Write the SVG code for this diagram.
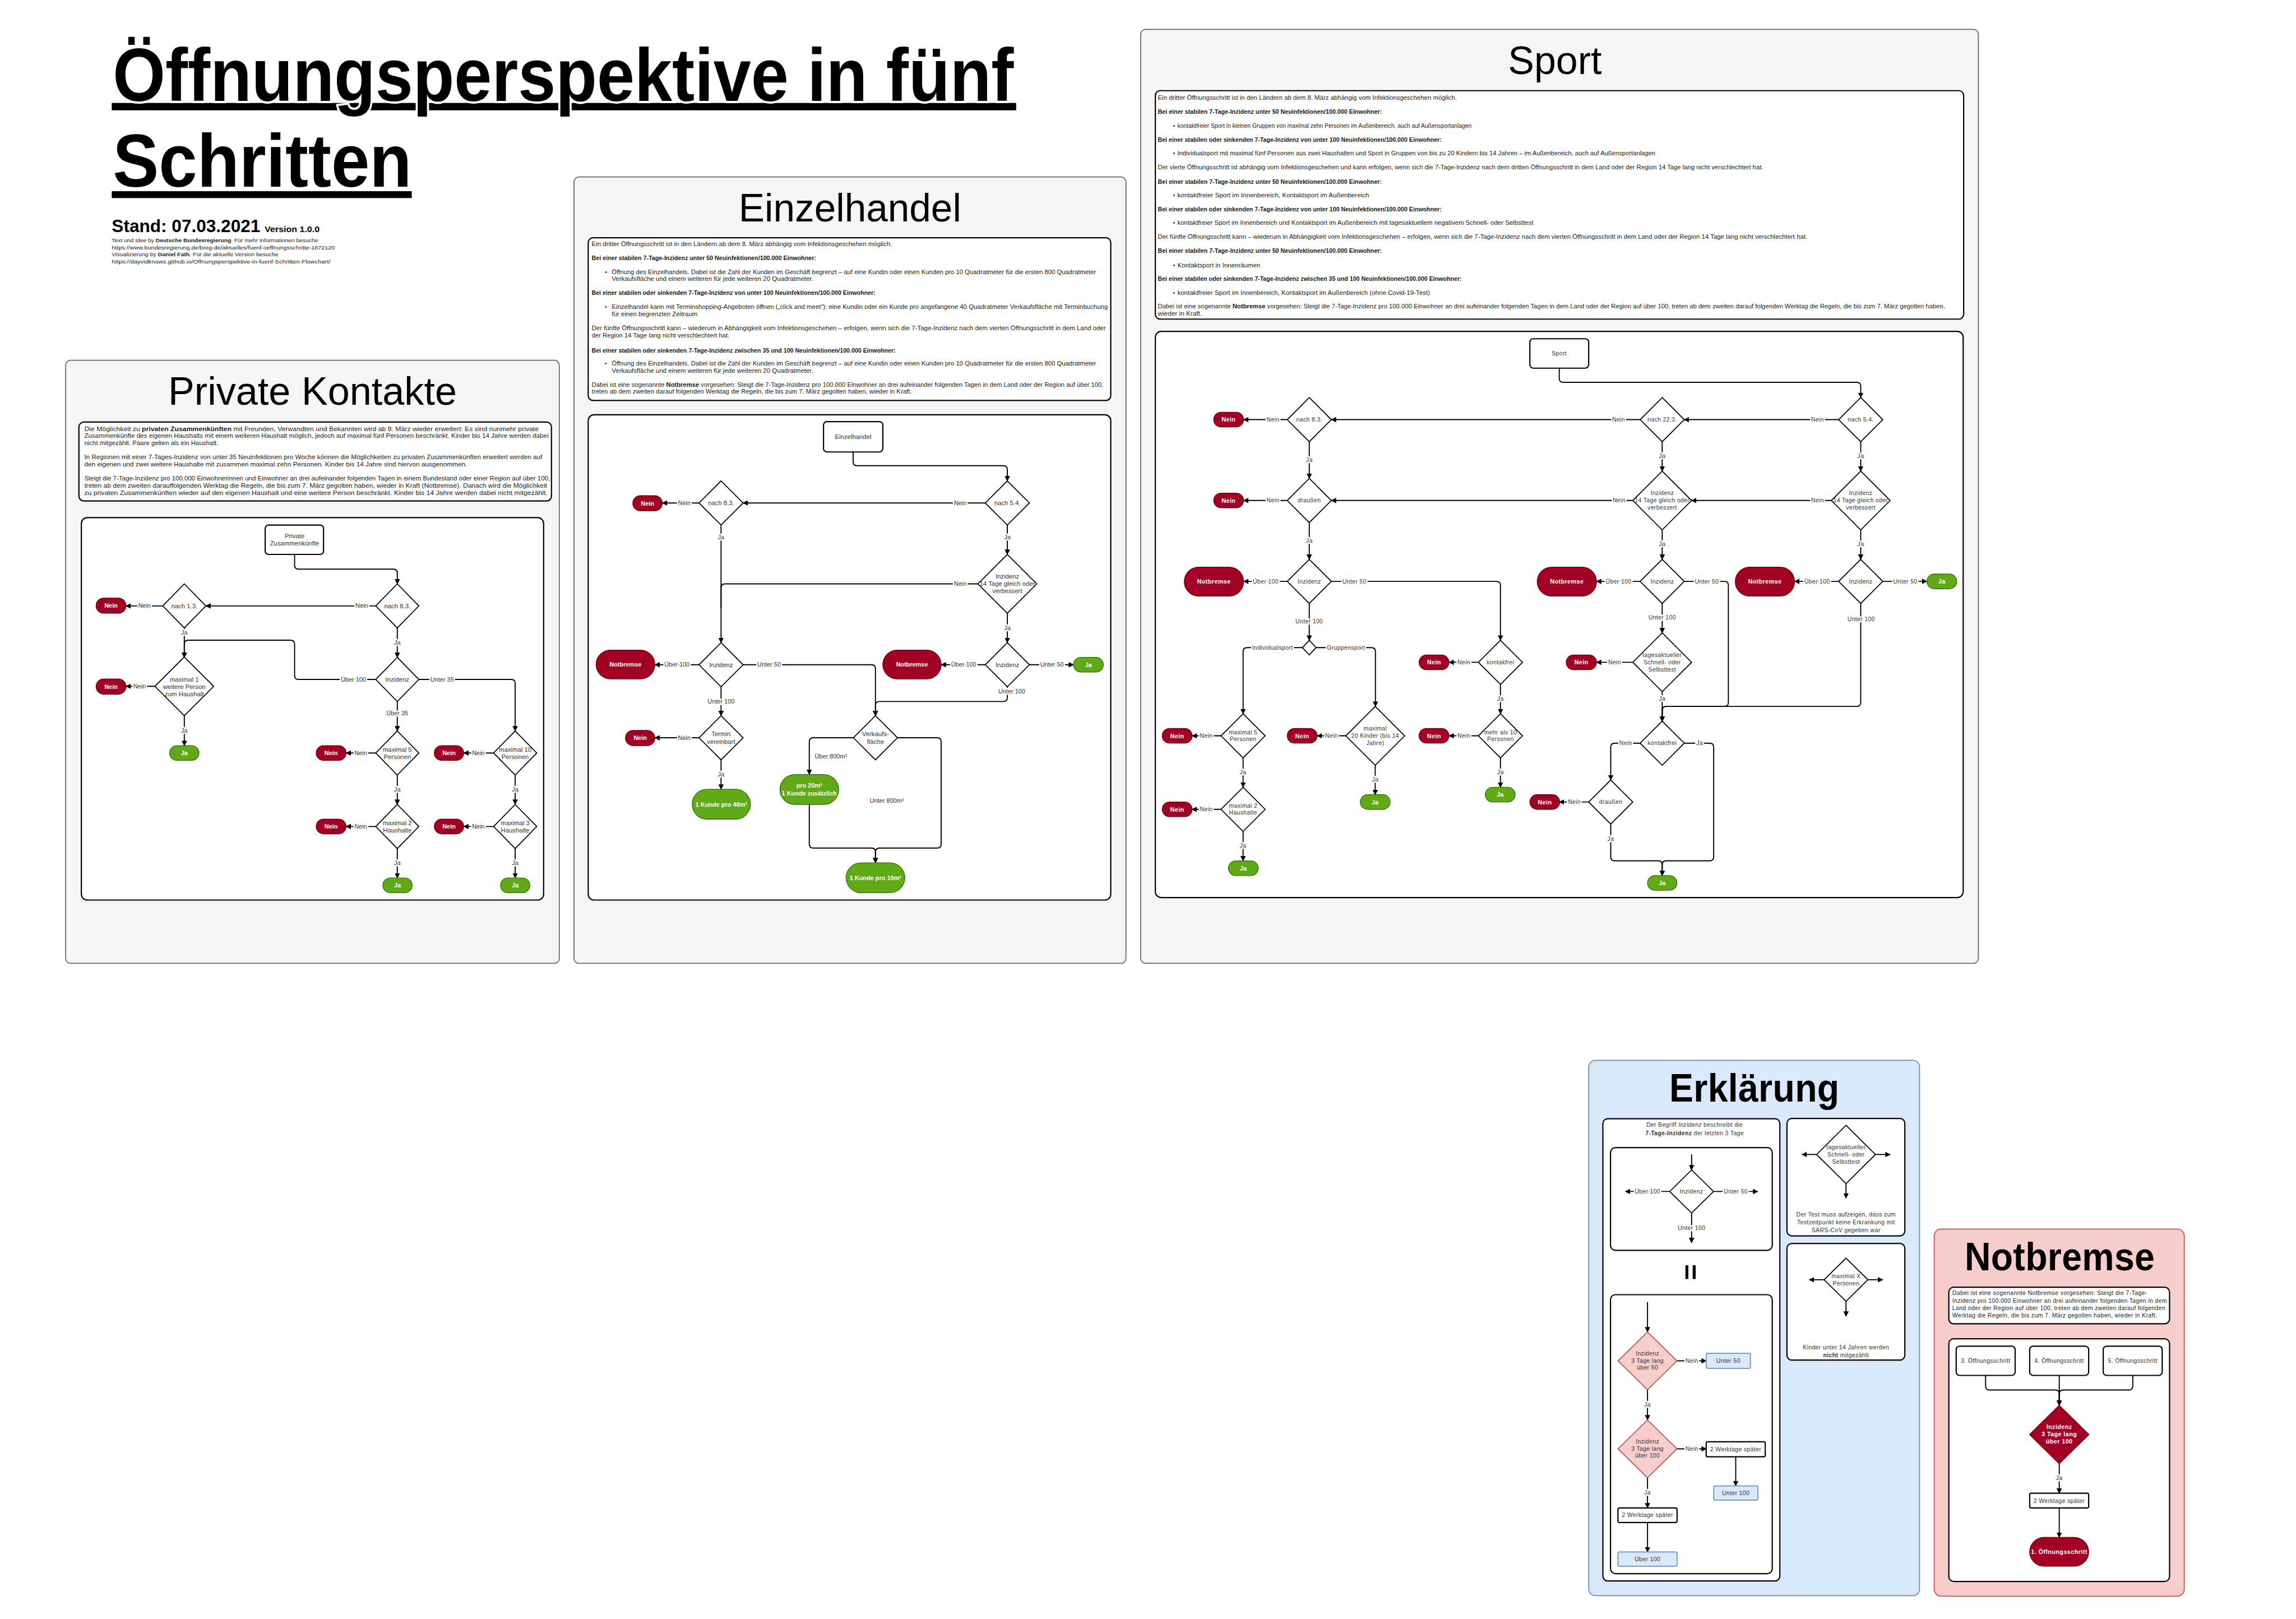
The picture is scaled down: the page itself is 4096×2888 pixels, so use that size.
<svg xmlns="http://www.w3.org/2000/svg" width="4096" height="2888" viewBox="0 0 4096 2888">
<defs>
<style>
.c{font-family:"Liberation Sans Narrow","Liberation Sans",Arial,sans-serif}
.w{font-family:"Liberation Sans",Arial,sans-serif;letter-spacing:.4px}
.pn{fill:#f5f5f5;stroke:#666;stroke-width:2}
.bx{fill:#fff;stroke:#000;stroke-width:2.5}
.dm{fill:#fff;stroke:#000;stroke-width:2}
.rd{fill:#a20025;stroke:#6f0000;stroke-width:1.5}
.gr{fill:#60a917;stroke:#2d7600;stroke-width:1.5}
.bl{fill:#dae8fc;stroke:#6c8ebf;stroke-width:2}
.pk{fill:#f8cecc;stroke:#b85450;stroke-width:2}
.ln{fill:none;stroke:#000;stroke-width:2.2}
.ar{marker-end:url(#a)}
.n{font-size:13px;fill:#333;text-anchor:middle}
.nw{font-size:12px;fill:#333;text-anchor:middle}
.l{font-size:12.5px;fill:#333;text-anchor:middle;stroke:#fff;stroke-width:6;paint-order:stroke;stroke-linejoin:round}
.lw{font-size:12px;fill:#333;text-anchor:middle;stroke:#fff;stroke-width:6;paint-order:stroke;stroke-linejoin:round}
.p{font-size:12.5px;fill:#fff;font-weight:bold;text-anchor:middle}
.b{font-size:12px;fill:#1a1a1a}
.t{font-size:80px;fill:#000;text-anchor:middle}
</style>
<marker id="a" viewBox="0 0 10 10" refX="9" refY="5" markerWidth="11" markerHeight="11" markerUnits="userSpaceOnUse" orient="auto"><path d="M0,0L10,5L0,10z" fill="#000"/></marker>
</defs>
<rect width="4096" height="2888" fill="#fff"/>
<g transform="scale(0.87447)">

<g id="header">
<rect x="228" y="210" width="1845" height="15" fill="#000"/>
<rect x="228" y="390" width="612" height="14" fill="#000"/>
<text class="c" x="230" y="206" font-size="152" font-weight="bold" textLength="1838" lengthAdjust="spacingAndGlyphs" stroke="#fff" stroke-width="9" paint-order="stroke">Öffnungsperspektive in fünf</text>
<text class="c" x="230" y="381" font-size="152" font-weight="bold" textLength="610" lengthAdjust="spacingAndGlyphs">Schritten</text>
<text class="c" x="228" y="473" font-size="35" font-weight="bold" textLength="303" lengthAdjust="spacingAndGlyphs">Stand: 07.03.2021</text>
<text class="c" x="540" y="473" font-size="17" font-weight="bold" textLength="112" lengthAdjust="spacingAndGlyphs">Version 1.0.0</text>
<text class="c" x="228" y="494" font-size="11" fill="#222" textLength="421" lengthAdjust="spacingAndGlyphs">Text und Idee by <tspan font-weight="bold">Deutsche Bundesregierung</tspan>. Für mehr Informationen besuche</text>
<text class="c" x="228" y="508.5" font-size="11" fill="#222" textLength="455" lengthAdjust="spacingAndGlyphs">https://www.bundesregierung.de/breg-de/aktuelles/fuenf-oeffnungsschritte-1872120</text>
<text class="c" x="228" y="523" font-size="11" fill="#222" textLength="340" lengthAdjust="spacingAndGlyphs">Visualizierung by <tspan font-weight="bold">Daniel Fath</tspan>. Für die aktuelle Version besuche</text>
<text class="c" x="228" y="537.5" font-size="11" fill="#222" textLength="446" lengthAdjust="spacingAndGlyphs">https://dayvidknows.github.io/Offnungsperspektive-in-fuenf-Schritten-Flowchart/</text>
</g>

<!-- ============ PRIVATE KONTAKTE ============ -->
<g id="panel-private">
<rect class="pn" x="134" y="735" width="1007" height="1230" rx="10"/>
<text class="c t" x="637.5" y="826" textLength="589" lengthAdjust="spacingAndGlyphs">Private Kontakte</text>
<rect class="bx" x="161" y="861" width="964" height="161" rx="10"/>
<g class="c b">
<text x="172" y="879" textLength="927" lengthAdjust="spacingAndGlyphs">Die Möglichkeit zu <tspan font-weight="bold">privaten Zusammenkünften</tspan> mit Freunden, Verwandten und Bekannten  wird  ab  8.  März  wieder  erweitert:  Es  sind  nunmehr  private</text>
<text x="172" y="893.5" textLength="947" lengthAdjust="spacingAndGlyphs">Zusammenkünfte des eigenen Haushalts mit einem weiteren Haushalt möglich, jedoch auf maximal fünf Personen beschränkt. Kinder bis 14 Jahre werden dabei</text>
<text x="172" y="908" textLength="273" lengthAdjust="spacingAndGlyphs">nicht mitgezählt. Paare gelten als ein Haushalt.</text>
<text x="172" y="937" textLength="934" lengthAdjust="spacingAndGlyphs">In Regionen mit einer 7-Tages-Inzidenz von unter 35 Neuinfektionen pro Woche können die Möglichkeiten zu privaten Zusammenkünften erweitert werden auf</text>
<text x="172" y="951.5" textLength="781" lengthAdjust="spacingAndGlyphs">den eigenen und zwei weitere Haushalte mit zusammen maximal zehn Personen. Kinder bis 14 Jahre sind hiervon ausgenommen.</text>
<text x="172" y="980.5" textLength="950" lengthAdjust="spacingAndGlyphs">Steigt die 7-Tage-Inzidenz pro 100.000 Einwohnerinnen und Einwohner an drei aufeinander folgenden Tagen in einem Bundesland oder einer Region auf über 100,</text>
<text x="172" y="995" textLength="944" lengthAdjust="spacingAndGlyphs">treten ab dem zweiten darauffolgenden Werktag die Regeln, die bis zum 7. März gegolten haben, wieder in Kraft (Notbremse). Danach wird die Möglichkeit</text>
<text x="172" y="1009.5" textLength="945" lengthAdjust="spacingAndGlyphs">zu privaten Zusammenkünften wieder auf den eigenen Haushalt und eine weitere Person beschränkt. Kinder bis 14 Jahre werden dabei nicht mitgezählt.</text>
</g>
<rect class="bx" x="166" y="1056" width="943" height="780" rx="12"/>
</g>

<g id="pk-connectors">
<path class="ln ar" d="M601 1131V1153Q601 1161 609 1161H802.5Q810.5 1161 810.5 1169V1191"/>
<path class="ln ar" d="M766.5 1236H420"/>
<path class="ln ar" d="M332 1236H257"/>
<path class="ln ar" d="M376 1281V1341"/>
<path class="ln ar" d="M810.5 1281V1341"/>
<path class="ln ar" d="M766.5 1386H609Q601 1386 601 1378V1314Q601 1306 593 1306H384Q376 1306 376 1314V1341"/>
<path class="ln ar" d="M316 1400H257"/>
<path class="ln ar" d="M376 1460V1521"/>
<path class="ln ar" d="M810.5 1431V1491"/>
<path class="ln ar" d="M854.5 1386H1043Q1051 1386 1051 1394V1491"/>
<path class="ln ar" d="M766.5 1536H706"/>
<path class="ln ar" d="M810.5 1581V1641"/>
<path class="ln ar" d="M766.5 1686H706"/>
<path class="ln ar" d="M810.5 1731V1791"/>
<path class="ln ar" d="M1007 1536H946"/>
<path class="ln ar" d="M1051 1581V1641"/>
<path class="ln ar" d="M1007 1686H946"/>
<path class="ln ar" d="M1051 1731V1791"/>
<g class="c l">
<text x="738" y="1240">Nein</text>
<text x="295" y="1240">Nein</text>
<text x="376" y="1295">Ja</text>
<text x="810.5" y="1315">Ja</text>
<text x="721" y="1390">Über 100</text>
<text x="285" y="1404">Nein</text>
<text x="376" y="1495">Ja</text>
<text x="810.5" y="1459">Über 35</text>
<text x="902" y="1390">Unter 35</text>
<text x="736" y="1540">Nein</text>
<text x="810.5" y="1615">Ja</text>
<text x="736" y="1690">Nein</text>
<text x="810.5" y="1765">Ja</text>
<text x="976" y="1540">Nein</text>
<text x="1051" y="1615">Ja</text>
<text x="976" y="1690">Nein</text>
<text x="1051" y="1765">Ja</text>
</g>
</g>

<g id="pk-start"><rect class="bx" x="541" y="1071" width="119" height="60" rx="7"/><text class="c n" x="601" y="1098">Private<tspan x="601" dy="14.5">Zusammenkünfte</tspan></text></g>
<g id="pk-nach83"><polygon class="dm" points="810.5,1191 854.5,1236 810.5,1281 766.5,1236"/><text class="c n" x="810.5" y="1240.5">nach 8.3.</text></g>
<g id="pk-nach13"><polygon class="dm" points="376,1191 420,1236 376,1281 332,1236"/><text class="c n" x="376" y="1240.5">nach 1.3.</text></g>
<g id="pk-nein1"><rect class="rd" x="196" y="1220" width="61" height="31" rx="15.5"/><text class="c p" x="226.5" y="1240">Nein</text></g>
<g id="pk-max1"><polygon class="dm" points="376,1340 436,1400 376,1460 316,1400"/><text class="c n" x="376" y="1390.5">maximal 1<tspan x="376" dy="15">weitere Person</tspan><tspan x="376" dy="15">zum Haushalt</tspan></text></g>
<g id="pk-nein2"><rect class="rd" x="196" y="1385" width="61" height="31" rx="15.5"/><text class="c p" x="226.5" y="1405">Nein</text></g>
<g id="pk-ja1"><rect class="gr" x="346" y="1521" width="60" height="30" rx="15"/><text class="c p" x="376" y="1540.5">Ja</text></g>
<g id="pk-inzidenz"><polygon class="dm" points="810.5,1341 854.5,1386 810.5,1431 766.5,1386"/><text class="c n" x="810.5" y="1390.5">Inzidenz</text></g>
<g id="pk-max5"><polygon class="dm" points="810.5,1491 854.5,1536 810.5,1581 766.5,1536"/><text class="c n" x="810.5" y="1533">maximal 5<tspan x="810.5" dy="15">Personen</tspan></text></g>
<g id="pk-nein3"><rect class="rd" x="645" y="1521" width="61" height="30" rx="15"/><text class="c p" x="675.5" y="1540.5">Nein</text></g>
<g id="pk-max2"><polygon class="dm" points="810.5,1641 854.5,1686 810.5,1731 766.5,1686"/><text class="c n" x="810.5" y="1683">maximal 2<tspan x="810.5" dy="15">Haushalte</tspan></text></g>
<g id="pk-nein4"><rect class="rd" x="645" y="1671" width="61" height="30" rx="15"/><text class="c p" x="675.5" y="1690.5">Nein</text></g>
<g id="pk-ja2"><rect class="gr" x="781" y="1791" width="60" height="30" rx="15"/><text class="c p" x="811" y="1810.5">Ja</text></g>
<g id="pk-max10"><polygon class="dm" points="1051,1491 1095,1536 1051,1581 1007,1536"/><text class="c n" x="1051" y="1533">maximal 10<tspan x="1051" dy="15">Personen</tspan></text></g>
<g id="pk-nein5"><rect class="rd" x="886" y="1521" width="60" height="30" rx="15"/><text class="c p" x="916" y="1540.5">Nein</text></g>
<g id="pk-max3"><polygon class="dm" points="1051,1641 1095,1686 1051,1731 1007,1686"/><text class="c n" x="1051" y="1683">maximal 3<tspan x="1051" dy="15">Haushalte</tspan></text></g>
<g id="pk-nein6"><rect class="rd" x="886" y="1671" width="60" height="30" rx="15"/><text class="c p" x="916" y="1690.5">Nein</text></g>
<g id="pk-ja3"><rect class="gr" x="1021" y="1791" width="60" height="30" rx="15"/><text class="c p" x="1051" y="1810.5">Ja</text></g>

<!-- ============ EINZELHANDEL ============ -->
<g id="panel-einzelhandel">
<rect class="pn" x="1171" y="361" width="1126" height="1604" rx="10"/>
<text class="c t" x="1734" y="452" textLength="454" lengthAdjust="spacingAndGlyphs">Einzelhandel</text>
<rect class="bx" x="1200" y="485" width="1066" height="332" rx="10"/>
<g class="c b">
<text x="1207" y="502" textLength="613" lengthAdjust="spacingAndGlyphs">Ein dritter Öffnungsschritt ist in den Ländern ab dem 8. März abhängig vom Infektionsgeschehen möglich.</text>
<text x="1207" y="531" font-weight="bold" textLength="458" lengthAdjust="spacingAndGlyphs">Bei einer stabilen 7-Tage-Inzidenz unter 50 Neuinfektionen/100.000 Einwohner:</text>
<text x="1234" y="559">•</text>
<text x="1248" y="559" textLength="988" lengthAdjust="spacingAndGlyphs">Öffnung des Einzelhandels. Dabei ist die Zahl der Kunden im Geschäft begrenzt – auf eine Kundin oder einen Kunden pro 10 Quadratmeter für die ersten 800 Quadratmeter</text>
<text x="1248" y="573" textLength="411" lengthAdjust="spacingAndGlyphs">Verkaufsfläche und einem weiteren für jede weiteren 20 Quadratmeter.</text>
<text x="1207" y="601" font-weight="bold" textLength="579" lengthAdjust="spacingAndGlyphs">Bei einer stabilen oder sinkenden 7-Tage-Inzidenz von unter 100 Neuinfektionen/100.000 Einwohner:</text>
<text x="1234" y="630">•</text>
<text x="1248" y="630" textLength="1012" lengthAdjust="spacingAndGlyphs">Einzelhandel kann mit Terminshopping-Angeboten öffnen („click and meet“): eine Kundin oder ein Kunde pro angefangene 40 Quadratmeter Verkaufsfläche mit Terminbuchung</text>
<text x="1248" y="645" textLength="175" lengthAdjust="spacingAndGlyphs">für einen begrenzten Zeitraum</text>
<text x="1207" y="674" textLength="1049" lengthAdjust="spacingAndGlyphs">Der fünfte Öffnungsschritt kann – wiederum in Abhängigkeit vom Infektionsgeschehen – erfolgen, wenn sich die 7-Tage-Inzidenz nach dem vierten Öffnungsschritt in dem Land oder</text>
<text x="1207" y="688" textLength="281" lengthAdjust="spacingAndGlyphs">der Region 14 Tage lang nicht verschlechtert hat.</text>
<text x="1207" y="719" font-weight="bold" textLength="620" lengthAdjust="spacingAndGlyphs">Bei einer stabilen oder sinkenden 7-Tage-Inzidenz zwischen 35 und 100 Neuinfektionen/100.000 Einwohner:</text>
<text x="1234" y="746">•</text>
<text x="1248" y="746" textLength="988" lengthAdjust="spacingAndGlyphs">Öffnung des Einzelhandels. Dabei ist die Zahl der Kunden im Geschäft begrenzt – auf eine Kundin oder einen Kunden pro 10 Quadratmeter für die ersten 800 Quadratmeter</text>
<text x="1248" y="760" textLength="411" lengthAdjust="spacingAndGlyphs">Verkaufsfläche und einem weiteren für jede weiteren 20 Quadratmeter.</text>
<text x="1207" y="789" textLength="1044" lengthAdjust="spacingAndGlyphs">Dabei ist eine sogenannte <tspan font-weight="bold">Notbremse</tspan> vorgesehen: Steigt die 7-Tage-Inzidenz pro 100.000 Einwohner an drei aufeinander folgenden Tagen in dem Land oder der Region auf über 100,</text>
<text x="1207" y="803" textLength="653" lengthAdjust="spacingAndGlyphs">treten ab dem zweiten darauf folgenden Werktag die Regeln, die bis zum 7. März gegolten haben, wieder in Kraft.</text>
</g>
<rect class="bx" x="1200" y="846" width="1066" height="990" rx="12"/>
</g>

<g id="eh-connectors">
<path class="ln ar" d="M1740.5 922V942Q1740.5 950 1748.5 950H2047Q2055 950 2055 958V981"/>
<path class="ln ar" d="M2010 1026H1516"/>
<path class="ln ar" d="M1426 1026H1351"/>
<path class="ln ar" d="M1471 1071V1311"/>
<path class="ln ar" d="M2055 1071V1131"/>
<path class="ln" d="M1995 1191H1479Q1471 1191 1471 1199V1240"/>
<path class="ln ar" d="M2055 1251V1311"/>
<path class="ln ar" d="M2010 1356H1920"/>
<path class="ln ar" d="M2100 1356H2190"/>
<path class="ln ar" d="M2055 1401V1423Q2055 1431 2047 1431H1794Q1786 1431 1786 1439V1460"/>
<path class="ln ar" d="M1426 1356H1336"/>
<path class="ln ar" d="M1516 1356H1778Q1786 1356 1786 1364V1460"/>
<path class="ln ar" d="M1471 1401V1460"/>
<path class="ln ar" d="M1426 1505H1336"/>
<path class="ln ar" d="M1471 1550V1610"/>
<path class="ln ar" d="M1741 1505H1659Q1651 1505 1651 1513V1580"/>
<path class="ln ar" d="M1831 1505H1912Q1920 1505 1920 1513V1722Q1920 1730 1912 1730H1794Q1786 1730 1786 1738V1760"/>
<path class="ln ar" d="M1651 1641V1722Q1651 1730 1659 1730H1778Q1786 1730 1786 1738V1760"/>
<g class="c l">
<text x="1959" y="1030">Nein</text>
<text x="1396" y="1030">Nein</text>
<text x="1471" y="1100">Ja</text>
<text x="2055" y="1100">Ja</text>
<text x="1959" y="1195">Nein</text>
<text x="2055" y="1285">Ja</text>
<text x="1966" y="1360">Über 100</text>
<text x="2146" y="1360">Unter 50</text>
<text x="2064" y="1414">Unter 100</text>
<text x="1381" y="1360">Über 100</text>
<text x="1569" y="1360">Unter 50</text>
<text x="1471" y="1435">Unter 100</text>
<text x="1396" y="1509">Nein</text>
<text x="1471" y="1584">Ja</text>
<text x="1695" y="1547">Über 800m²</text>
<text x="1809" y="1637">Unter 800m²</text>
</g>
</g>

<g id="eh-start"><rect class="bx" x="1680" y="860" width="121" height="62" rx="7"/><text class="c n" x="1740.5" y="895">Einzelhandel</text></g>
<g id="eh-nach54"><polygon class="dm" points="2055,981 2100,1026 2055,1071 2010,1026"/><text class="c n" x="2055" y="1030.5">nach 5.4.</text></g>
<g id="eh-nach83"><polygon class="dm" points="1471,981 1516,1026 1471,1071 1426,1026"/><text class="c n" x="1471" y="1030.5">nach 8.3.</text></g>
<g id="eh-nein1"><rect class="rd" x="1291" y="1011" width="60" height="31" rx="15.5"/><text class="c p" x="1321" y="1031">Nein</text></g>
<g id="eh-14tage"><polygon class="dm" points="2055,1131 2115,1191 2055,1251 1995,1191"/><text class="c n" x="2055" y="1180">Inzidenz<tspan x="2055" dy="15">14 Tage gleich oder</tspan><tspan x="2055" dy="15">verbessert</tspan></text></g>
<g id="eh-inz-r"><polygon class="dm" points="2055,1311 2100,1356 2055,1401 2010,1356"/><text class="c n" x="2055" y="1360.5">Inzidenz</text></g>
<g id="eh-notbremse-r"><rect class="rd" x="1801" y="1326" width="119" height="59" rx="29.5"/><text class="c p" x="1860.5" y="1360">Notbremse</text></g>
<g id="eh-ja1"><rect class="gr" x="2190" y="1341" width="61" height="30" rx="15"/><text class="c p" x="2220.5" y="1360.5">Ja</text></g>
<g id="eh-inz-l"><polygon class="dm" points="1471,1311 1516,1356 1471,1401 1426,1356"/><text class="c n" x="1471" y="1360.5">Inzidenz</text></g>
<g id="eh-notbremse-l"><rect class="rd" x="1216" y="1326" width="120" height="59" rx="29.5"/><text class="c p" x="1276" y="1360">Notbremse</text></g>
<g id="eh-termin"><polygon class="dm" points="1471,1460 1516,1505 1471,1550 1426,1505"/><text class="c n" x="1471" y="1502">Termin<tspan x="1471" dy="15">vereinbart</tspan></text></g>
<g id="eh-nein2"><rect class="rd" x="1276" y="1490" width="60" height="31" rx="15.5"/><text class="c p" x="1306" y="1510">Nein</text></g>
<g id="eh-40m"><rect class="gr" x="1412" y="1610" width="119" height="61" rx="30.5"/><text class="c p" x="1471.5" y="1645">1 Kunde pro 40m²</text></g>
<g id="eh-verkauf"><polygon class="dm" points="1786,1460 1831,1505 1786,1550 1741,1505"/><text class="c n" x="1786" y="1502">Verkaufs-<tspan x="1786" dy="15">fläche</tspan></text></g>
<g id="eh-20m"><rect class="gr" x="1591" y="1580" width="120" height="61" rx="30.5"/><text class="c p" x="1651" y="1607">pro 20m²<tspan x="1651" dy="16">1 Kunde zusätzlich</tspan></text></g>
<g id="eh-10m"><rect class="gr" x="1726" y="1760" width="120" height="61" rx="30.5"/><text class="c p" x="1786" y="1795">1 Kunde pro 10m²</text></g>

<!-- ============ SPORT ============ -->
<g id="panel-sport">
<rect class="pn" x="2327" y="60" width="1709" height="1905" rx="10"/>
<text class="c t" x="3172" y="151" textLength="191" lengthAdjust="spacingAndGlyphs">Sport</text>
<rect class="bx" x="2357" y="185" width="1649" height="466" rx="10"/>
<g class="c b">
<text x="2362" y="203.5" textLength="610" lengthAdjust="spacingAndGlyphs">Ein dritter Öffnungsschritt ist in den Ländern ab dem 8. März abhängig vom Infektionsgeschehen möglich.</text>
<text x="2362" y="232.5" font-weight="bold" textLength="457" lengthAdjust="spacingAndGlyphs">Bei einer stabilen 7-Tage-Inzidenz unter 50 Neuinfektionen/100.000 Einwohner:</text>
<text x="2393" y="261">•</text>
<text x="2402" y="261" textLength="600" lengthAdjust="spacingAndGlyphs">kontaktfreier Sport in kleinen Gruppen von maximal zehn Personen im Außenbereich, auch auf Außensportanlagen</text>
<text x="2362" y="289" font-weight="bold" textLength="579" lengthAdjust="spacingAndGlyphs">Bei einer stabilen oder sinkenden 7-Tage-Inzidenz von unter 100 Neuinfektionen/100.000 Einwohner:</text>
<text x="2393" y="317">•</text>
<text x="2402" y="317" textLength="975" lengthAdjust="spacingAndGlyphs">Individualsport mit maximal fünf Personen aus zwei Haushalten und Sport in Gruppen von bis zu 20 Kindern bis 14 Jahren – im Außenbereich, auch auf Außensportanlagen</text>
<text x="2362" y="345" textLength="1235" lengthAdjust="spacingAndGlyphs">Der vierte Öffnungsschritt ist abhängig vom Infektionsgeschehen und kann erfolgen, wenn sich die 7-Tage-Inzidenz nach dem dritten Öffnungsschritt in dem Land oder der Region 14 Tage lang nicht verschlechtert hat.</text>
<text x="2362" y="375" font-weight="bold" textLength="457" lengthAdjust="spacingAndGlyphs">Bei einer stabilen 7-Tage-Inzidenz unter 50 Neuinfektionen/100.000 Einwohner:</text>
<text x="2393" y="403">•</text>
<text x="2402" y="403" textLength="391" lengthAdjust="spacingAndGlyphs">kontaktfreier Sport im Innenbereich, Kontaktsport im Außenbereich</text>
<text x="2362" y="431" font-weight="bold" textLength="579" lengthAdjust="spacingAndGlyphs">Bei einer stabilen oder sinkenden 7-Tage-Inzidenz von unter 100 Neuinfektionen/100.000 Einwohner:</text>
<text x="2393" y="459">•</text>
<text x="2402" y="459" textLength="726" lengthAdjust="spacingAndGlyphs">kontaktfreier Sport im Innenbereich und Kontaktsport im Außenbereich mit tagesaktuellem negativem Schnell- oder Selbsttest</text>
<text x="2362" y="487.5" textLength="1325" lengthAdjust="spacingAndGlyphs">Der fünfte Öffnungsschritt kann – wiederum in Abhängigkeit vom Infektionsgeschehen – erfolgen, wenn sich die 7-Tage-Inzidenz nach dem vierten Öffnungsschritt in dem Land oder der Region 14 Tage lang nicht verschlechtert hat.</text>
<text x="2362" y="516" font-weight="bold" textLength="457" lengthAdjust="spacingAndGlyphs">Bei einer stabilen 7-Tage-Inzidenz unter 50 Neuinfektionen/100.000 Einwohner:</text>
<text x="2393" y="545">•</text>
<text x="2402" y="545" textLength="169" lengthAdjust="spacingAndGlyphs">Kontaktsport in Innenräumen</text>
<text x="2362" y="573" font-weight="bold" textLength="620" lengthAdjust="spacingAndGlyphs">Bei einer stabilen oder sinkenden 7-Tage-Inzidenz zwischen 35 und 100 Neuinfektionen/100.000 Einwohner:</text>
<text x="2393" y="601">•</text>
<text x="2402" y="601" textLength="515" lengthAdjust="spacingAndGlyphs">kontaktfreier Sport im Innenbereich, Kontaktsport im Außenbereich (ohne Covid-19-Test)</text>
<text x="2362" y="629" textLength="1606" lengthAdjust="spacingAndGlyphs">Dabei ist eine sogenannte <tspan font-weight="bold">Notbremse</tspan> vorgesehen: Steigt die 7-Tage-Inzidenz pro 100.000 Einwohner an drei aufeinander folgenden Tagen in dem Land oder der Region auf über 100, treten ab dem zweiten darauf folgenden Werktag die Regeln, die bis zum 7. März gegolten haben,</text>
<text x="2362" y="644" textLength="90" lengthAdjust="spacingAndGlyphs">wieder in Kraft.</text>
</g>
<rect class="bx" x="2357" y="676" width="1648" height="1155" rx="12"/>
</g>

<g id="sp-connectors">
<path class="ln ar" d="M3181 751V772Q3181 780 3189 780H3788Q3796 780 3796 788V811"/>
<path class="ln ar" d="M3751 856H3436"/>
<path class="ln ar" d="M3346 856H2716"/>
<path class="ln ar" d="M2626 856H2537"/>
<path class="ln ar" d="M2671 901V976"/>
<path class="ln ar" d="M3391 901V961"/>
<path class="ln ar" d="M3796 901V961"/>
<path class="ln ar" d="M2626 1021H2537"/>
<path class="ln ar" d="M3331 1021H2716"/>
<path class="ln ar" d="M3736 1021H3451"/>
<path class="ln ar" d="M2671 1066V1141"/>
<path class="ln ar" d="M3391 1081V1141"/>
<path class="ln ar" d="M3796 1081V1141"/>
<path class="ln ar" d="M2626 1186H2537"/>
<path class="ln ar" d="M2716 1186H3053Q3061 1186 3061 1194V1306"/>
<path class="ln ar" d="M2671 1231V1306"/>
<path class="ln ar" d="M2657 1321H2544Q2536 1321 2536 1329V1456"/>
<path class="ln ar" d="M2685 1321H2798Q2806 1321 2806 1329V1441"/>
<path class="ln ar" d="M2491 1501H2432"/>
<path class="ln ar" d="M2536 1546V1606"/>
<path class="ln ar" d="M2491 1651H2432"/>
<path class="ln ar" d="M2536 1696V1756"/>
<path class="ln ar" d="M2745.5 1501H2687"/>
<path class="ln ar" d="M2805.5 1561V1621"/>
<path class="ln ar" d="M3016 1351H2956"/>
<path class="ln ar" d="M3061 1396V1456"/>
<path class="ln ar" d="M3016 1501H2956"/>
<path class="ln ar" d="M3061 1546V1606"/>
<path class="ln ar" d="M3346 1186H3257"/>
<path class="ln ar" d="M3436 1186H3518Q3526 1186 3526 1194V1433Q3526 1441 3518 1441H3399Q3391 1441 3391 1449V1471"/>
<path class="ln ar" d="M3391 1231V1291"/>
<path class="ln ar" d="M3331 1351H3257"/>
<path class="ln ar" d="M3391 1411V1471"/>
<path class="ln ar" d="M3751 1186H3661"/>
<path class="ln ar" d="M3841 1186H3931"/>
<path class="ln ar" d="M3796 1231V1433Q3796 1441 3788 1441H3399Q3391 1441 3391 1449V1471"/>
<path class="ln ar" d="M3346 1516H3294Q3286 1516 3286 1524V1591"/>
<path class="ln ar" d="M3436 1516H3488Q3496 1516 3496 1524V1748Q3496 1756 3488 1756H3399Q3391 1756 3391 1764V1786"/>
<path class="ln ar" d="M3241 1636H3181"/>
<path class="ln ar" d="M3286 1681V1748Q3286 1756 3294 1756H3383Q3391 1756 3391 1764V1786"/>
<g class="w lw">
<text x="3708" y="860">Nein</text>
<text x="3302" y="860">Nein</text>
<text x="2597" y="860">Nein</text>
<text x="2671" y="942">Ja</text>
<text x="3391" y="934">Ja</text>
<text x="3796" y="934">Ja</text>
<text x="2597" y="1025">Nein</text>
<text x="3303" y="1025">Nein</text>
<text x="3708" y="1025">Nein</text>
<text x="2671" y="1107">Ja</text>
<text x="3391" y="1114">Ja</text>
<text x="3796" y="1114">Ja</text>
<text x="2582" y="1190">Über 100</text>
<text x="2763" y="1190">Unter 50</text>
<text x="2671" y="1272">Unter 100</text>
<text x="2596" y="1325">Individualsport</text>
<text x="2746" y="1325">Gruppensport</text>
<text x="2461" y="1505">Nein</text>
<text x="2536" y="1579">Ja</text>
<text x="2461" y="1655">Nein</text>
<text x="2536" y="1729">Ja</text>
<text x="2716.6" y="1505">Nein</text>
<text x="2805.5" y="1594">Ja</text>
<text x="2986.5" y="1355">Nein</text>
<text x="3061" y="1430">Ja</text>
<text x="2986.5" y="1505">Nein</text>
<text x="3061" y="1579">Ja</text>
<text x="3302" y="1190">Über 100</text>
<text x="3482" y="1190">Unter 50</text>
<text x="3391" y="1264">Unter 100</text>
<text x="3294" y="1355">Nein</text>
<text x="3391" y="1430">Ja</text>
<text x="3707" y="1190">Über 100</text>
<text x="3887" y="1190">Unter 50</text>
<text x="3797" y="1267">Unter 100</text>
<text x="3316.6" y="1520">Nein</text>
<text x="3467.5" y="1520">Ja</text>
<text x="3211.8" y="1640">Nein</text>
<text x="3286" y="1715">Ja</text>
</g>
</g>

<g id="sp-start"><rect class="bx" x="3121" y="691" width="120" height="60" rx="7"/><text class="w nw" x="3181" y="725.5">Sport</text></g>
<g id="sp-nach54"><polygon class="dm" points="3796,811 3841,856 3796,901 3751,856"/><text class="w nw" x="3796" y="860">nach 5.4.</text></g>
<g id="sp-nach223"><polygon class="dm" points="3391,811 3436,856 3391,901 3346,856"/><text class="w nw" x="3391" y="860">nach 22.3.</text></g>
<g id="sp-nach83"><polygon class="dm" points="2671,811 2716,856 2671,901 2626,856"/><text class="w nw" x="2671" y="860">nach 8.3.</text></g>
<g id="sp-nein1"><rect class="rd" x="2476" y="841" width="61" height="30" rx="15"/><text class="w p" x="2506.5" y="860.5" font-size="12">Nein</text></g>
<g id="sp-draussen1"><polygon class="dm" points="2671,976 2716,1021 2671,1066 2626,1021"/><text class="w nw" x="2671" y="1025">draußen</text></g>
<g id="sp-nein2"><rect class="rd" x="2476" y="1006" width="61" height="30" rx="15"/><text class="w p" x="2506.5" y="1025.5" font-size="12">Nein</text></g>
<g id="sp-14t-m"><polygon class="dm" points="3391,961 3451,1021 3391,1081 3331,1021"/><text class="w nw" x="3391" y="1010">Inzidenz<tspan x="3391" dy="15">14 Tage gleich oder</tspan><tspan x="3391" dy="15">verbessert</tspan></text></g>
<g id="sp-14t-r"><polygon class="dm" points="3796,961 3856,1021 3796,1081 3736,1021"/><text class="w nw" x="3796" y="1010">Inzidenz<tspan x="3796" dy="15">14 Tage gleich oder</tspan><tspan x="3796" dy="15">verbessert</tspan></text></g>
<g id="sp-inz-l"><polygon class="dm" points="2671,1141 2716,1186 2671,1231 2626,1186"/><text class="w nw" x="2671" y="1190">Inzidenz</text></g>
<g id="sp-notbremse-l"><rect class="rd" x="2416" y="1157" width="121" height="59" rx="29.5"/><text class="w p" x="2476.5" y="1190.5" font-size="12">Notbremse</text></g>
<g id="sp-inz-m"><polygon class="dm" points="3391,1141 3436,1186 3391,1231 3346,1186"/><text class="w nw" x="3391" y="1190">Inzidenz</text></g>
<g id="sp-notbremse-m"><rect class="rd" x="3136" y="1157" width="121" height="59" rx="29.5"/><text class="w p" x="3196.5" y="1190.5" font-size="12">Notbremse</text></g>
<g id="sp-inz-r"><polygon class="dm" points="3796,1141 3841,1186 3796,1231 3751,1186"/><text class="w nw" x="3796" y="1190">Inzidenz</text></g>
<g id="sp-notbremse-r"><rect class="rd" x="3540" y="1157" width="121" height="59" rx="29.5"/><text class="w p" x="3600.5" y="1190.5" font-size="12">Notbremse</text></g>
<g id="sp-ja-r"><rect class="gr" x="3931" y="1171" width="61" height="30" rx="15"/><text class="w p" x="3961.5" y="1190.5" font-size="12">Ja</text></g>
<g id="sp-split"><polygon class="dm" points="2671,1306 2685,1321 2671,1336 2657,1321"/></g>
<g id="sp-max5"><polygon class="dm" points="2536,1456 2581,1501 2536,1546 2491,1501"/><text class="w nw" x="2536" y="1498">maximal 5<tspan x="2536" dy="14">Personen</tspan></text></g>
<g id="sp-nein3"><rect class="rd" x="2371" y="1486" width="61" height="30" rx="15"/><text class="w p" x="2401.5" y="1505.5" font-size="12">Nein</text></g>
<g id="sp-max2"><polygon class="dm" points="2536,1606 2581,1651 2536,1696 2491,1651"/><text class="w nw" x="2536" y="1648">maximal 2<tspan x="2536" dy="14">Haushalte</tspan></text></g>
<g id="sp-nein4"><rect class="rd" x="2371" y="1636" width="61" height="30" rx="15"/><text class="w p" x="2401.5" y="1655.5" font-size="12">Nein</text></g>
<g id="sp-ja1"><rect class="gr" x="2506" y="1756" width="61" height="30" rx="15"/><text class="w p" x="2536.5" y="1775.5" font-size="12">Ja</text></g>
<g id="sp-max20"><polygon class="dm" points="2805.5,1441 2865.5,1501 2805.5,1561 2745.5,1501"/><text class="w nw" x="2805.5" y="1490">maximal<tspan x="2805.5" dy="15">20 Kinder (bis 14</tspan><tspan x="2805.5" dy="15">Jahre)</tspan></text></g>
<g id="sp-nein5"><rect class="rd" x="2626" y="1486" width="61" height="30" rx="15"/><text class="w p" x="2656.5" y="1505.5" font-size="12">Nein</text></g>
<g id="sp-ja2"><rect class="gr" x="2775" y="1621" width="61" height="30" rx="15"/><text class="w p" x="2805.5" y="1640.5" font-size="12">Ja</text></g>
<g id="sp-kontakfrei"><polygon class="dm" points="3061,1306 3106,1351 3061,1396 3016,1351"/><text class="w nw" x="3061" y="1355">kontakfrei</text></g>
<g id="sp-nein6"><rect class="rd" x="2895" y="1336" width="61" height="30" rx="15"/><text class="w p" x="2925.5" y="1355.5" font-size="12">Nein</text></g>
<g id="sp-mehr10"><polygon class="dm" points="3061,1456 3106,1501 3061,1546 3016,1501"/><text class="w nw" x="3061" y="1498">mehr als 10<tspan x="3061" dy="14">Personen</tspan></text></g>
<g id="sp-nein7"><rect class="rd" x="2895" y="1486" width="61" height="30" rx="15"/><text class="w p" x="2925.5" y="1505.5" font-size="12">Nein</text></g>
<g id="sp-ja3"><rect class="gr" x="3030" y="1606" width="61" height="30" rx="15"/><text class="w p" x="3060.5" y="1625.5" font-size="12">Ja</text></g>
<g id="sp-test"><polygon class="dm" points="3391,1291 3451,1351 3391,1411 3331,1351"/><text class="w nw" x="3391" y="1340">tagesaktueller<tspan x="3391" dy="15">Schnell- oder</tspan><tspan x="3391" dy="15">Selbsttest</tspan></text></g>
<g id="sp-nein8"><rect class="rd" x="3195" y="1336" width="62" height="30" rx="15"/><text class="w p" x="3226" y="1355.5" font-size="12">Nein</text></g>
<g id="sp-kontaktfrei"><polygon class="dm" points="3391,1471 3436,1516 3391,1561 3346,1516"/><text class="w nw" x="3391" y="1520">kontaktfrei</text></g>
<g id="sp-draussen2"><polygon class="dm" points="3286,1591 3331,1636 3286,1681 3241,1636"/><text class="w nw" x="3286" y="1640">draußen</text></g>
<g id="sp-nein9"><rect class="rd" x="3121" y="1621" width="61" height="30" rx="15"/><text class="w p" x="3151.5" y="1640.5" font-size="12">Nein</text></g>
<g id="sp-ja4"><rect class="gr" x="3361" y="1786" width="60" height="30" rx="15"/><text class="w p" x="3391" y="1805.5" font-size="12">Ja</text></g>

<!-- ============ ERKLÄRUNG ============ -->
<g id="panel-erklaerung">
<rect class="bl" x="3241" y="2163" width="675" height="1092" rx="14"/>
<text class="w t" x="3579" y="2247" font-weight="bold" textLength="347" lengthAdjust="spacingAndGlyphs">Erklärung</text>
<rect class="bx" x="3270" y="2282" width="361" height="943" rx="10"/>
<text class="w nw" x="3457" y="2299">Der Begriff <tspan font-style="italic">Inzidenz</tspan> beschreibt die</text>
<text class="w nw" x="3457" y="2316"><tspan font-weight="bold">7-Tage-Inzidenz</tspan> der letzten 3 Tage</text>
<rect class="bx" x="3285.5" y="2341" width="330" height="209.5" rx="10"/>
<text x="3449" y="2595" font-family="Liberation Sans,Arial,sans-serif" font-size="56" font-weight="bold" text-anchor="middle" dominant-baseline="central" transform="rotate(90 3449 2595)">=</text>
<rect class="bx" x="3285.5" y="2641" width="330" height="569" rx="10"/>
<rect class="bx" x="3645.5" y="2281.6" width="240.5" height="239.4" rx="10"/>
<rect class="bx" x="3645.5" y="2536.5" width="240.5" height="238" rx="10"/>
</g>
<g id="er-connectors">
<path class="ln ar" d="M3451 2355V2386.5"/>
<path class="ln ar" d="M3406 2430.5H3316"/>
<path class="ln ar" d="M3495.5 2430.5H3586"/>
<path class="ln ar" d="M3451 2474.5V2535"/>
<path class="ln ar" d="M3361 2656V2717"/>
<path class="ln ar" d="M3421 2776H3481"/>
<path class="ln ar" d="M3361 2835V2896.5"/>
<path class="ln ar" d="M3421 2955.5H3481"/>
<path class="ln ar" d="M3541 2971.6V3031"/>
<path class="ln ar" d="M3361 3014.5V3076"/>
<path class="ln ar" d="M3361 3105.7V3165.7"/>
<path class="ln ar" d="M3706 2355H3676"/>
<path class="ln ar" d="M3826 2355H3856"/>
<path class="ln ar" d="M3766 2414.4V2444"/>
<path class="ln ar" d="M3721.3 2610.5H3691"/>
<path class="ln ar" d="M3810.7 2610.5H3841"/>
<path class="ln ar" d="M3766 2654.5V2685"/>
<g class="w lw">
<text x="3361" y="2434.5">Über 100</text>
<text x="3541" y="2434.5">Unter 50</text>
<text x="3451" y="2509">Unter 100</text>
<text x="3451.6" y="2780">Nein</text>
<text x="3361" y="2869">Ja</text>
<text x="3451.6" y="2959.5">Nein</text>
<text x="3361" y="3049">Ja</text>
</g>
</g>
<g id="er-inzidenz"><polygon class="dm" points="3451,2386.5 3495.7,2430.5 3451,2474.5 3406.3,2430.5"/><text class="w nw" x="3451" y="2434.5">Inzidenz</text></g>
<g id="er-pink1"><polygon class="pk" points="3361,2717 3421,2776 3361,2835 3301,2776"/><text class="w nw" x="3361" y="2765">Inzidenz<tspan x="3361" dy="14.5">3 Tage lang</tspan><tspan x="3361" dy="14.5">über 50</tspan></text></g>
<g id="er-unter50"><rect class="bl" x="3480.7" y="2760.7" width="90.3" height="30.7" rx="3"/><text class="w nw" x="3526" y="2780.5">Unter 50</text></g>
<g id="er-pink2"><polygon class="pk" points="3361,2896.5 3421,2955.5 3361,3014.5 3301,2955.5"/><text class="w nw" x="3361" y="2944.5">Inzidenz<tspan x="3361" dy="14.5">3 Tage lang</tspan><tspan x="3361" dy="14.5">über 100</tspan></text></g>
<g id="er-werktage1"><rect class="bx" x="3480.7" y="2941" width="120.5" height="30.6" rx="3"/><text class="w nw" x="3541" y="2960.5">2 Werktage später</text></g>
<g id="er-unter100"><rect class="bl" x="3496" y="3031" width="90" height="29" rx="3"/><text class="w nw" x="3541" y="3050">Unter 100</text></g>
<g id="er-werktage2"><rect class="bx" x="3300.7" y="3076" width="120.6" height="29.7" rx="3"/><text class="w nw" x="3361" y="3095">2 Werktage später</text></g>
<g id="er-ueber100"><rect class="bl" x="3300.7" y="3165.7" width="120.6" height="29.3" rx="3"/><text class="w nw" x="3361" y="3184.5">Über 100</text></g>
<g id="er-test"><polygon class="dm" points="3766,2295.6 3826,2355 3766,2414.4 3706,2355"/><text class="w nw" x="3766" y="2344">tagesaktueller<tspan x="3766" dy="15">Schnell- oder</tspan><tspan x="3766" dy="15">Selbsttest</tspan></text>
<text class="w nw" x="3766" y="2482" font-size="12.5">Der Test muss aufzeigen, dass zum<tspan x="3766" dy="16">Testzeitpunkt keine Erkrankung mit</tspan><tspan x="3766" dy="16">SARS-CoV gegeben war</tspan></text></g>
<g id="er-maxx"><polygon class="dm" points="3766,2566.5 3810.7,2610.5 3766,2654.5 3721.3,2610.5"/><text class="w nw" x="3766" y="2607">maximal X<tspan x="3766" dy="15">Personen</tspan></text>
<text class="w nw" x="3766" y="2753" font-size="12.5">Kinder unter 14 Jahren werden<tspan x="3766" dy="16"><tspan font-weight="bold">nicht</tspan> mitgezählt</tspan></text></g>

<!-- ============ NOTBREMSE ============ -->
<g id="panel-notbremse">
<rect class="pk" x="3946" y="2507" width="510" height="749" rx="14"/>
<text class="w t" x="4202" y="2591" font-weight="bold" textLength="388" lengthAdjust="spacingAndGlyphs">Notbremse</text>
<rect class="bx" x="3975.7" y="2625.8" width="450.3" height="74.6" rx="10"/>
<g class="w" font-size="12" fill="#222">
<text x="3982.7" y="2642" textLength="398" lengthAdjust="spacingAndGlyphs">Dabei ist eine sogenannte Notbremse vorgesehen: Steigt die 7-Tage-</text>
<text x="3982.7" y="2657.5" textLength="438" lengthAdjust="spacingAndGlyphs">Inzidenz pro 100.000 Einwohner an drei aufeinander folgenden Tagen in dem</text>
<text x="3982.7" y="2672.4" textLength="435" lengthAdjust="spacingAndGlyphs">Land oder der Region auf über 100, treten ab dem zweiten darauf folgenden</text>
<text x="3982.7" y="2687" textLength="418" lengthAdjust="spacingAndGlyphs">Werktag die Regeln, die bis zum 7. März gegolten haben, wieder in Kraft.</text>
</g>
<rect class="bx" x="3975.7" y="2731" width="450.3" height="495" rx="10"/>
</g>
<g id="nb-connectors">
<path class="ln ar" d="M4050.7 2805.7V2827.4Q4050.7 2835.4 4058.7 2835.4H4193Q4201 2835.4 4201 2843.4V2866.5"/>
<path class="ln ar" d="M4201 2805.7V2866.5"/>
<path class="ln ar" d="M4351 2805.7V2827.4Q4351 2835.4 4343 2835.4H4209Q4201 2835.4 4201 2843.4V2866.5"/>
<path class="ln ar" d="M4201 2986V3046"/>
<path class="ln ar" d="M4201 3076V3136"/>
<text class="w lw" x="4201" y="3019.3">Ja</text>
</g>
<g id="nb-schritt3"><rect class="bx" x="3990.7" y="2746" width="120.3" height="59.7" rx="7"/><text class="w nw" x="4050.8" y="2780">3. Öffnungsschritt</text></g>
<g id="nb-schritt4"><rect class="bx" x="4140.7" y="2746" width="120.3" height="59.7" rx="7"/><text class="w nw" x="4200.8" y="2780">4. Öffnungsschritt</text></g>
<g id="nb-schritt5"><rect class="bx" x="4290.7" y="2746" width="120.3" height="59.7" rx="7"/><text class="w nw" x="4350.8" y="2780">5. Öffnungsschritt</text></g>
<g id="nb-inzidenz"><polygon points="4201,2866.5 4261.7,2926.3 4201,2986 4140.3,2926.3" fill="#a20025" stroke="#6f0000" stroke-width="1.5"/><text class="w p" x="4201" y="2914.5" font-size="12">Inzidenz<tspan x="4201" dy="14.8">3 Tage lang</tspan><tspan x="4201" dy="14.8">über 100</tspan></text></g>
<g id="nb-werktage"><rect class="bx" x="4140.7" y="3046" width="120.3" height="30" rx="3"/><text class="w nw" x="4200.8" y="3065.5">2 Werktage später</text></g>
<g id="nb-schritt1"><rect class="rd" x="4140.7" y="3136" width="120.3" height="59" rx="29.5"/><text class="w p" x="4200.8" y="3170" font-size="12">1. Öffnungsschritt</text></g>

</g>
</svg>
